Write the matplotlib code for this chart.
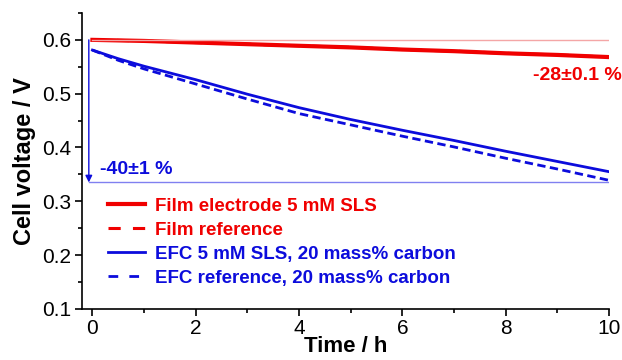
import matplotlib
matplotlib.use("Agg")
import matplotlib.pyplot as plt
from matplotlib.ticker import MultipleLocator
from matplotlib.lines import Line2D

plt.rcParams['font.family'] = ['Liberation Sans', 'DejaVu Sans']

# discharge curves, cell voltage vs time
t = [0, 0.5, 1, 2, 3, 4, 5, 6, 7, 8, 9, 10]
film_sls = [0.600, 0.599, 0.598, 0.595, 0.592, 0.589, 0.586, 0.582, 0.579, 0.575, 0.572, 0.568]
film_ref = [0.600, 0.599, 0.598, 0.595, 0.592, 0.589, 0.586, 0.582, 0.579, 0.575, 0.572, 0.568]
efc_sls = [0.581, 0.565, 0.551, 0.526, 0.499, 0.474, 0.452, 0.432, 0.413, 0.393, 0.374, 0.355]
efc_ref = [0.581, 0.562, 0.546, 0.518, 0.490, 0.463, 0.442, 0.421, 0.401, 0.380, 0.360, 0.339]
labels = ["Film electrode 5 mM SLS", "Film reference",
          "EFC 5 mM SLS, 20 mass% carbon", "EFC reference, 20 mass% carbon"]

red = '#f00000'
blue = '#0c0cdc'

fig = plt.figure(figsize=(6.22, 3.6), dpi=100)
ax = fig.add_axes([0.132, 0.142, 0.847, 0.822])

ax.plot(t, film_ref, color=red, lw=2.2, ls=(0, (4, 4)))
ax.plot(t, film_sls, color=red, lw=3)
ax.plot(t, efc_sls, color=blue, lw=2)
ax.plot(t, efc_ref, color=blue, lw=2, ls=(0, (3, 1.6)))

# reference levels and drop arrows
ax.plot([0, 10], [0.600, 0.600], color='#f4a6a6', lw=1)
ax.plot([-0.07, 10], [0.335, 0.335], color='#8080f0', lw=1)
ax.annotate('', xy=(10.05, 0.568), xytext=(10.05, 0.600),
            arrowprops=dict(arrowstyle='-|>', color=red, lw=1, mutation_scale=10,
                            shrinkA=0, shrinkB=0))
ax.annotate('', xy=(-0.07, 0.335), xytext=(-0.07, 0.600),
            arrowprops=dict(arrowstyle='-|>', color=blue, lw=1, mutation_scale=10,
                            shrinkA=0, shrinkB=0))
ax.text(10.25, 0.533, '-28\u00b10.1 %', color=red, fontsize=14, fontweight='bold',
        ha='right', va='center')
ax.text(0.14, 0.359, '-40\u00b11 %', color=blue, fontsize=14, fontweight='bold',
        ha='left', va='center')

ax.set_xlim(-0.2, 10)
ax.set_ylim(0.1, 0.65)
ax.xaxis.set_major_locator(MultipleLocator(2))
ax.xaxis.set_minor_locator(MultipleLocator(1))
ax.yaxis.set_minor_locator(MultipleLocator(0.05))
ax.set_yticks([0.1, 0.2, 0.3, 0.4, 0.5, 0.6])
ax.tick_params(which='both', direction='out', labelsize=15, width=1.2)
ax.tick_params(which='major', length=5, pad=3)
ax.tick_params(axis='x', which='major', pad=2)
ax.tick_params(which='minor', length=3)
ax.spines['top'].set_visible(False)
ax.spines['right'].set_visible(False)
ax.spines['left'].set_linewidth(1.2)
ax.spines['bottom'].set_linewidth(1.2)
ax.set_xlabel('Time / h', fontsize=16, fontweight='bold', labelpad=-1)
ax.set_ylabel('Cell voltage / V', fontsize=17, fontweight='bold', labelpad=4)

handles = [Line2D([], [], color=red, lw=3),
           Line2D([], [], color=red, lw=2.2, ls=(0, (4, 4))),
           Line2D([], [], color=blue, lw=2),
           Line2D([], [], color=blue, lw=2, ls=(0, (3.5, 4)))]
leg = ax.legend(handles, labels, loc='upper left', bbox_to_anchor=(0.049, 0.375),
                frameon=False, borderpad=0, borderaxespad=0,
                handlelength=2.0, handletextpad=0.5, labelspacing=0.36,
                prop={'weight': 'bold', 'size': 13.5})
for txt, c in zip(leg.get_texts(), [red, red, blue, blue]):
    txt.set_color(c)

fig.savefig('out.png', dpi=100)
